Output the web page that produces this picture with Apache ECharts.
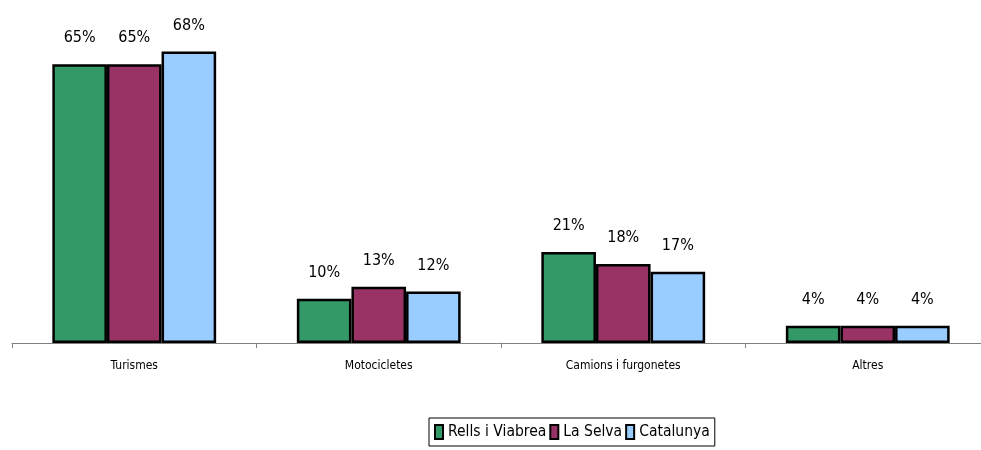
<!DOCTYPE html>
<html>
<head>
<meta charset="utf-8">
<script src="https://cdn.jsdelivr.net/npm/echarts@6/dist/echarts.min.js"></script>
<style>html,body{margin:0;padding:0;background:#fff}#c{width:981px;height:450px}</style>
</head>
<body>
<div id="c"></div>
<script>
var categories = ['Turismes', 'Motocicletes', 'Camions i furgonetes', 'Altres'];
var seriesNames = ['Rells i Viabrea', 'La Selva', 'Catalunya'];
var rellsValues = [65, 10.3, 21.2, 4.0];
var selvaValues = [65, 13.1, 18.4, 4.0];
var catalunyaValues = [68, 12.0, 16.6, 4.0];
var seriesColors = ['#339966', '#993366', '#99CCFF'];

var FONT = "'Liberation Sans Narrow', 'DejaVu Sans Condensed', 'Liberation Sans', sans-serif";
var allValues = [rellsValues, selvaValues, catalunyaValues];

var chart = echarts.init(document.getElementById('c'), null, {renderer: 'canvas'});
chart.setOption({
  animation: false,
  backgroundColor: '#ffffff',
  grid: {left: 12, width: 978, top: 0, height: 343, containLabel: false, outerBoundsMode: 'none'},
  legend: {
    left: 429, top: 418,
    padding: [6, 5, 6, 5],
    itemGap: 3,
    itemWidth: 8, itemHeight: 14,
    borderColor: '#000000', borderWidth: 1,
    backgroundColor: '#ffffff',
    textStyle: {fontFamily: FONT, fontSize: 15.5, color: '#000'},
    data: seriesNames.map(function (n) { return {name: n, icon: 'rect'}; })
  },
  xAxis: {
    type: 'category',
    data: categories,
    boundaryGap: true,
    axisLine: {lineStyle: {color: '#808080', width: 1}},
    axisTick: {show: true, length: 5, lineStyle: {color: '#808080'}},
    axisLabel: {fontFamily: FONT, fontSize: 12, color: '#000', margin: 17, interval: 0}
  },
  yAxis: {
    type: 'value', min: 0, max: 80,
    show: false,
    splitLine: {show: false}
  },
  series: seriesNames.map(function (name, i) {
    return {
      name: name,
      type: 'bar',
      data: allValues[i],
      barGap: '0%',
      barCategoryGap: '33%',
      itemStyle: {color: seriesColors[i], borderColor: '#000000', borderWidth: 2.5},
      label: {
        show: true, position: 'top', distance: 18,
        fontFamily: FONT, fontSize: 16, color: '#000',
        formatter: function (p) { return Math.round(p.value) + '%'; }
      }
    };
  })
});
</script>
</body>
</html>
